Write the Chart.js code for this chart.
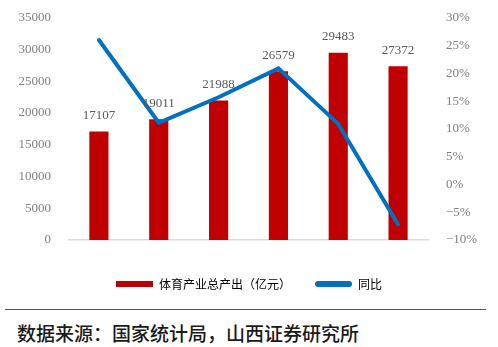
<!DOCTYPE html>
<html><head><meta charset="utf-8">
<script src="https://cdn.jsdelivr.net/npm/chart.js@4/dist/chart.umd.min.js"></script>
<style>
html,body{margin:0;padding:0;background:#fff;}
#wrap{position:relative;width:498px;height:347px;}
#cv{position:absolute;left:0;top:0;}
#sep{position:absolute;left:5px;top:309px;width:481px;height:0;border-top:1.5px solid #555;}
#src{position:absolute;left:17px;top:320px;font-family:"Noto Sans CJK SC";font-size:19px;font-weight:500;color:#1a1a1a;line-height:26px;white-space:nowrap;}
</style></head>
<body><div id="wrap"><canvas id="cv" width="498" height="300"></canvas><div id="sep"></div><div id="src">数据来源：国家统计局，山西证券研究所</div></div>
<script>
const categories = ['2015','2016','2017','2018','2019','2020'];
const outputValues = [17107, 19011, 21988, 26579, 29483, 27372];
const growthValues = [26.0, 11.1, 15.7, 20.9, 10.9, -7.2];
const seriesNames = ['体育产业总产出（亿元）', '同比'];

const serif = 'Liberation Serif';
const labelPlugin = {
  id: 'barLabels',
  afterDatasetsDraw(chart) {
    const ctx = chart.ctx;
    const meta = chart.getDatasetMeta(1);
    ctx.save();
    ctx.font = '13px "' + serif + '"';
    ctx.fillStyle = '#595959';
    ctx.textAlign = 'center';
    ctx.textBaseline = 'middle';
    meta.data.forEach((bar, i) => {
      ctx.fillText(String(outputValues[i]), bar.x, bar.y - 16);
    });
    ctx.restore();
  }
};

new Chart(document.getElementById('cv'), {
  data: {
    labels: categories,
    datasets: [
      { type: 'line', label: seriesNames[1], data: growthValues, yAxisID: 'y1',
        borderColor: '#0070C0', backgroundColor: '#0070C0', borderWidth: 4,
        pointRadius: 0, tension: 0, order: 0, borderCapStyle: 'round' },
      { type: 'bar', label: seriesNames[0], data: outputValues, yAxisID: 'y',
        backgroundColor: '#C00000', barPercentage: 0.32, categoryPercentage: 1, order: 1 }
    ]
  },
  options: {
    responsive: false,
    animation: false,
    devicePixelRatio: 1,
    layout: { padding: { top: 17, left: 0, right: 0, bottom: 0 } },
    plugins: {
      tooltip: { enabled: false },
      legend: {
        position: 'bottom',
        labels: {
          padding: 24,
          boxWidth: 37,
          boxHeight: 6,
          color: '#7f7f7f',
          font: { family: 'Noto Sans CJK SC', size: 12 },
          generateLabels() {
            return [
              { text: seriesNames[0], fillStyle: '#C00000', strokeStyle: '#C00000', lineWidth: 0, datasetIndex: 1 },
              { text: seriesNames[1], fillStyle: '#0070C0', strokeStyle: '#0070C0', lineWidth: 0, borderRadius: 3, datasetIndex: 0 }
            ];
          }
        }
      }
    },
    scales: {
      x: {
        offset: true,
        grid: { display: false },
        border: { color: '#d9d9d9', width: 1.5 },
        ticks: { color: '#7f7f7f', font: { family: serif, size: 13 }, padding: 6, maxRotation: 0 },
        afterFit(s) { s.height = 14; }
      },
      y: {
        position: 'left',
        min: 0, max: 35000,
        grid: { display: false },
        border: { display: false },
        ticks: { stepSize: 5000, color: '#7f7f7f', font: { family: serif, size: 13 }, padding: 10,
          callback: v => String(v) },
        afterFit(s) { s.width = 69; }
      },
      y1: {
        position: 'right',
        min: -10, max: 30,
        grid: { display: false },
        border: { display: false },
        ticks: { stepSize: 5, color: '#7f7f7f', font: { family: serif, size: 13 }, padding: 10,
          callback: v => (v < 0 ? '\u2212' + Math.abs(v) : v) + '%' },
        afterFit(s) { s.width = 70; }
      }
    }
  },
  plugins: [labelPlugin]
});
</script>
</body></html>
